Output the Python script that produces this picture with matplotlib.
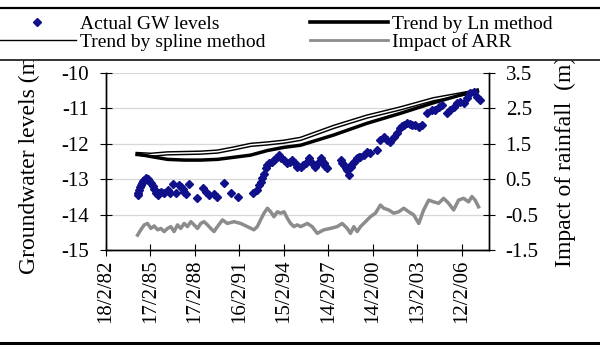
import matplotlib
matplotlib.use("Agg")
import matplotlib.pyplot as plt
from matplotlib.lines import Line2D
from matplotlib.patches import Rectangle
from datetime import datetime, timedelta

plt.rcParams['font.family'] = ['Liberation Serif', 'DejaVu Serif']
plt.rcParams['axes.unicode_minus'] = False

# actual groundwater levels (decimal year, m)
gw_year = [1984.26, 1984.32, 1984.37, 1984.43, 1984.48, 1984.55, 1984.60, 1984.71, 1984.82, 1984.93,
           1985.05, 1985.16, 1985.27, 1985.38, 1985.50, 1985.61, 1985.72, 1985.83, 1986.05, 1986.28,
           1986.45, 1986.62, 1986.84, 1987.06, 1987.18, 1987.29, 1987.40, 1987.51, 1987.73, 1988.25,
           1988.70, 1988.90, 1989.08, 1989.40, 1989.60, 1990.09, 1990.54, 1991.05, 1992.04, 1992.30,
           1992.44, 1992.56, 1992.67, 1992.78, 1992.89, 1993.00, 1993.11, 1993.30, 1993.45, 1993.62,
           1993.79, 1993.95, 1994.12, 1994.35, 1994.50, 1994.69, 1994.85, 1995.02, 1995.25, 1995.40,
           1995.58, 1995.80, 1996.03, 1996.25, 1996.48, 1996.59, 1996.70, 1996.81, 1996.92, 1997.04,
           1997.94, 1998.05, 1998.16, 1998.28, 1998.39, 1998.50, 1998.61, 1998.72, 1998.83, 1998.95,
           1999.06, 1999.17, 1999.28, 1999.51, 1999.73, 1999.95, 2000.40, 2000.63, 2000.85, 2001.08,
           2001.30, 2001.52, 2001.75, 2001.97, 2002.10, 2002.20, 2002.42, 2002.60, 2002.76, 2002.98,
           2003.21, 2003.43, 2003.77, 2004.10, 2004.33, 2004.55, 2004.78, 2005.11, 2005.33, 2005.56,
           2005.78, 2006.01, 2006.23, 2006.46, 2006.68, 2006.91, 2007.13, 2007.35]
gw_level = [-13.45, -13.38, -13.30, -13.21, -13.15, -13.10, -13.06, -13.02, -12.98, -13.00,
            -13.05, -13.10, -13.20, -13.28, -13.38, -13.45, -13.40, -13.35, -13.40, -13.31,
            -13.40, -13.14, -13.40, -13.16, -13.22, -13.28, -13.35, -13.42, -13.14, -13.54,
            -13.26, -13.35, -13.45, -13.42, -13.49, -13.12, -13.40, -13.49, -13.40, -13.30,
            -13.16, -13.08, -12.98, -12.85, -12.69, -12.60, -12.55, -12.52, -12.46, -12.40,
            -12.32, -12.40, -12.46, -12.55, -12.50, -12.46, -12.55, -12.65, -12.65, -12.60,
            -12.55, -12.41, -12.55, -12.65, -12.51, -12.41, -12.48, -12.55, -12.62, -12.69,
            -12.46, -12.53, -12.60, -12.68, -12.74, -12.88, -12.65, -12.58, -12.51, -12.46,
            -12.41, -12.38, -12.36, -12.32, -12.22, -12.27, -12.18, -11.89, -11.80, -11.89,
            -11.94, -11.80, -11.70, -11.56, -11.50, -11.47, -11.42, -11.45, -11.47, -11.47,
            -11.52, -11.47, -11.14, -11.05, -11.05, -10.95, -10.90, -11.14, -11.05, -10.95,
            -10.86, -10.81, -10.86, -10.71, -10.57, -10.53, -10.67, -10.76]

# trend by Ln method
ln_year = [1984.26, 1985.16, 1986.28, 1987.40, 1988.52, 1989.64, 1990.76, 1991.88, 1993.01,
           1994.13, 1995.25, 1997.49, 1999.73, 2001.97, 2004.21, 2006.46, 2007.13]
ln_level = [-12.29, -12.36, -12.44, -12.46, -12.46, -12.44, -12.38, -12.32, -12.19,
            -12.10, -12.04, -11.75, -11.42, -11.14, -10.84, -10.57, -10.53]

# trend by spline method
sp_year = [1984.26, 1985.16, 1986.28, 1988.52, 1989.64, 1990.76, 1991.88, 1993.01,
           1994.13, 1995.25, 1997.49, 1999.73, 2001.97, 2004.21, 2006.46, 2007.13]
sp_level = [-12.29, -12.31, -12.27, -12.25, -12.22, -12.13, -12.03, -11.99,
            -11.94, -11.86, -11.52, -11.23, -11.00, -10.74, -10.57, -10.50]

# impact of ARR (right axis, m)
arr_year = [1984.26, 1984.48, 1984.71, 1984.93, 1985.16, 1985.38, 1985.61, 1985.83, 1986.05, 1986.28,
            1986.50, 1986.72, 1986.95, 1987.17, 1987.40, 1987.62, 1987.85, 1988.07, 1988.30, 1988.52,
            1988.74, 1988.97, 1989.19, 1989.41, 1989.64, 1989.98, 1990.31, 1990.76, 1991.21, 1991.66,
            1992.10, 1992.33, 1992.55, 1992.78, 1993.01, 1993.23, 1993.45, 1993.68, 1993.90, 1994.13,
            1994.35, 1994.57, 1994.80, 1995.02, 1995.25, 1995.70, 1996.03, 1996.37, 1996.81, 1997.26,
            1997.71, 1998.05, 1998.39, 1998.61, 1998.83, 1999.06, 1999.28, 1999.62, 1999.95, 2000.29,
            2000.63, 2000.85, 2001.19, 2001.52, 2001.86, 2002.20, 2002.53, 2002.87, 2003.21, 2003.54,
            2003.88, 2004.21, 2004.55, 2004.89, 2005.22, 2005.56, 2005.89, 2006.23, 2006.57, 2006.79,
            2007.01, 2007.24]
arr_value = [-1.08, -0.93, -0.79, -0.75, -0.89, -0.82, -0.93, -0.89, -0.98, -0.89,
             -0.84, -0.98, -0.79, -0.89, -0.75, -0.84, -0.70, -0.79, -0.89, -0.75,
             -0.70, -0.79, -0.89, -0.98, -0.84, -0.65, -0.75, -0.70, -0.75, -0.84,
             -0.93, -0.84, -0.65, -0.46, -0.32, -0.42, -0.56, -0.42, -0.46, -0.42,
             -0.60, -0.75, -0.84, -0.79, -0.84, -0.75, -0.84, -1.03, -0.93, -0.89,
             -0.84, -0.75, -0.89, -1.03, -0.84, -0.98, -0.84, -0.70, -0.56, -0.46,
             -0.23, -0.32, -0.37, -0.46, -0.42, -0.32, -0.42, -0.51, -0.75, -0.37,
             -0.09, -0.14, -0.18, -0.04, -0.18, -0.37, -0.09, -0.04, -0.14, 0.01,
             -0.09, -0.28]

tick_labels = ["18/2/82", "17/2/85", "17/2/88", "16/2/91", "15/2/94",
               "14/2/97", "14/2/00", "13/2/03", "12/2/06"]
left_ticks = [-10, -11, -12, -13, -14, -15]
right_ticks = [3.5, 2.5, 1.5, 0.5, -0.5, -1.5]


def yr(y):
    return datetime(int(y), 1, 1) + timedelta(days=(y - int(y)) * 365.25)


x0 = datetime(1982, 2, 18)
tick_dates = [x0 + timedelta(days=1095 * i) for i in range(len(tick_labels))]

fig = plt.figure(figsize=(6, 3.51), dpi=100)
ax = fig.add_axes([106 / 600, 1 - 250 / 351, 383 / 600, 177 / 351])
ax2 = ax.twinx()

ax.plot([yr(v) for v in sp_year], sp_level, color='black', lw=3.2, zorder=3)
ax.plot([yr(v) for v in sp_year], sp_level, color='white', lw=1.1, zorder=3)
ax.plot([yr(v) for v in ln_year], ln_level, color='black', lw=2.5, zorder=3)
ax.plot([yr(v) for v in gw_year], gw_level, ls='none', marker='D', ms=4.5,
        color='#10108a', zorder=4)
ax2.plot([yr(v) for v in arr_year], arr_value, color='#8c8c8c', lw=2.5)

ax.set_xlim(x0, x0 + timedelta(days=1095 * 8.61))
ax.set_ylim(-15, -10)
ax2.set_ylim(-1.5, 3.5)
ax.set_xticks(tick_dates)
ax.set_xticklabels(tick_labels, rotation=90, fontsize=15)
ax.set_yticks(left_ticks)
ax.set_yticklabels([str(v) for v in left_ticks], fontsize=15)
ax2.set_yticks(right_ticks)
ax2.set_yticklabels([str(v) for v in right_ticks], fontsize=15)

ax.yaxis.grid(True, color='#d8d8d8', lw=0.9)
ax.set_axisbelow(True)
for a in (ax, ax2):
    a.spines['top'].set_visible(False)
    for s in ('left', 'right', 'bottom'):
        a.spines[s].set_linewidth(1.0)
ax.tick_params(axis='y', direction='inout', length=8, pad=8)
ax.tick_params(axis='x', direction='inout', length=8, pad=3)
ax2.tick_params(axis='y', direction='inout', length=8, pad=8)

ax.set_ylabel("Groundwater levels (m)", fontsize=17)
ax.yaxis.set_label_coords(-0.172, 0.5)
ax2.set_ylabel("Impact of rainfall  (m)", fontsize=17)
ax2.yaxis.set_label_coords(1.172, 0.5)

# legend band covers the top of the axis titles
fig.add_artist(Rectangle((0, 1 - 60 / 351), 1, 52 / 351, transform=fig.transFigure,
                         facecolor='white', edgecolor='none', zorder=8))
fig.add_artist(Line2D([0, 1], [1 - 8 / 351] * 2, transform=fig.transFigure,
                      color='black', lw=1.6, zorder=9))
fig.add_artist(Line2D([0, 1], [1 - 60 / 351] * 2, transform=fig.transFigure,
                      color='#333333', lw=1.4, zorder=9))
fig.add_artist(Line2D([0, 1], [1 - 343 / 351] * 2, transform=fig.transFigure,
                      color='black', lw=2.2, zorder=9))

handles = [
    Line2D([], [], ls='none', marker='D', ms=4.3, color='#10108a'),
    Line2D([], [], color='black', lw=1.0),
    Line2D([], [], color='black', lw=2.6),
    Line2D([], [], color='#8c8c8c', lw=2.0),
]
labels = ["Actual GW levels", "Trend by spline method", "Trend by Ln method", "Impact of ARR"]
leg = fig.legend(handles, labels, ncol=2, loc='upper left', bbox_to_anchor=(-0.003, 1 - 15.5 / 351),
                 frameon=False, fontsize=14, handlelength=4.0, handletextpad=0.2,
                 columnspacing=2.3, labelspacing=0.0, borderpad=0, borderaxespad=0)
leg.set_zorder(10)

fig.savefig("out.png", dpi=100)
